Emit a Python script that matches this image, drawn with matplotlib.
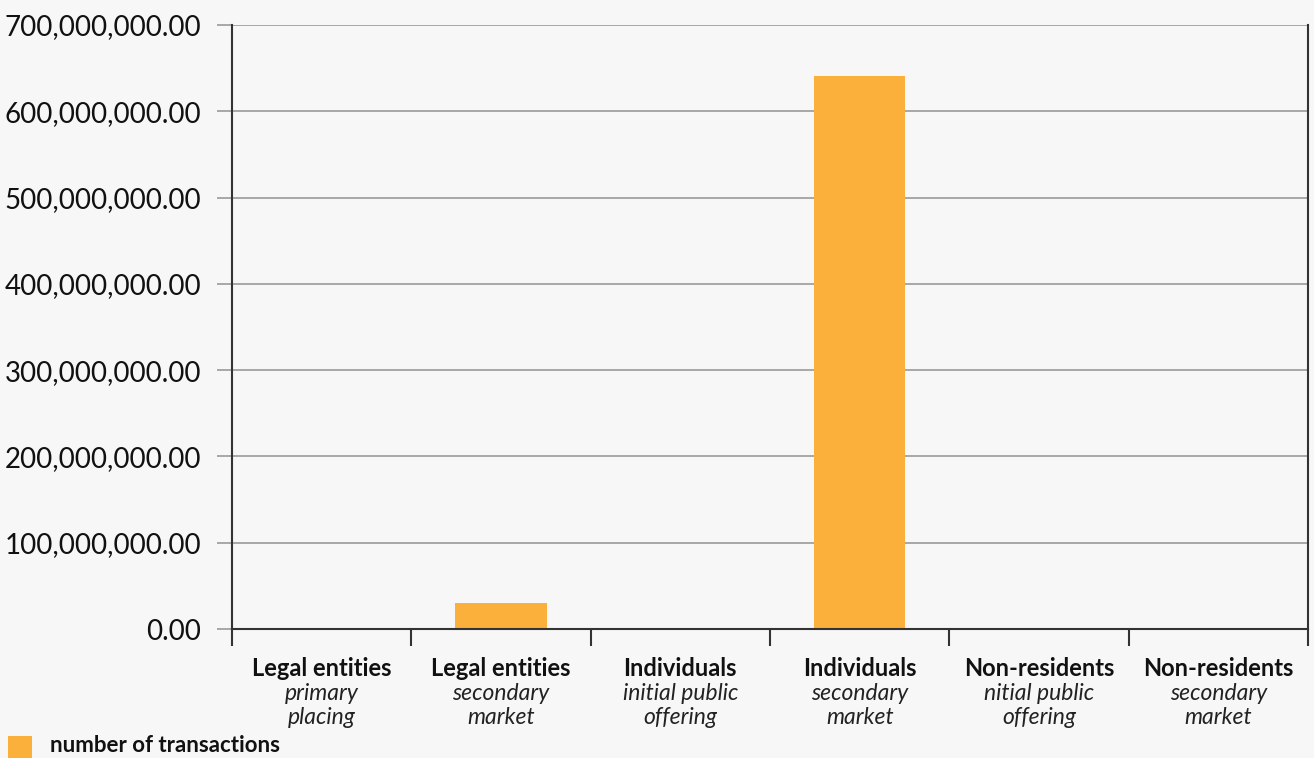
import numpy as np
import matplotlib.pyplot as plt
from matplotlib.ticker import FuncFormatter, FixedLocator
from matplotlib.patches import Rectangle

plt.rcParams['font.family'] = ['Lato', 'DejaVu Sans']

groups = ['Legal entities', 'Legal entities', 'Individuals', 'Individuals', 'Non-residents', 'Non-residents']
subtitles = [('primary', 'placing'), ('secondary', 'market'), ('initial public', 'offering'),
             ('secondary', 'market'), ('nitial public', 'offering'), ('secondary', 'market')]
values = [0, 30000000, 0, 641000000, 0, 0]
series_name = 'number of transactions'

bg = '#f7f7f7'
bar_color = '#fbb03b'
grid_color = '#9a9a9a'
dark = '#333333'

W, H = 1314, 758
fig = plt.figure(figsize=(W/100, H/100), dpi=100, facecolor=bg)
ax = fig.add_axes([232/W, 1-629/H, (1308-232)/W, (629-25)/H], facecolor=bg)

x = np.arange(len(values))
ax.bar(x, values, width=0.51, color=bar_color, zorder=3)

ax.set_xlim(-0.5, len(values) - 0.5)
ax.set_ylim(0, 700000000)
ax.set_yticks(np.arange(0, 700000001, 100000000))
ax.yaxis.set_major_formatter(FuncFormatter(lambda v, p: f'{v:,.2f}'))
ax.tick_params(axis='y', length=11, width=1.2, color=grid_color, pad=11, labelsize=20, labelcolor='#111111')
ax.yaxis.grid(True, color=grid_color, linewidth=1.2, zorder=0)
ax.yaxis.get_major_ticks()[0].tick1line.set_color(dark)

ax.xaxis.set_major_locator(FixedLocator(np.arange(-0.5, len(values), 1.0)))
ax.set_xticklabels([])
ax.tick_params(axis='x', length=12, width=1.5, color=dark, direction='out')

ax.spines['top'].set_visible(False)
for side in ['left', 'right', 'bottom']:
    ax.spines[side].set_color(dark)
    ax.spines[side].set_linewidth(1.5)
    ax.spines[side].set_zorder(4)

for i, (g, (s1, s2)) in enumerate(zip(groups, subtitles)):
    ax.annotate(g, xy=(i, 0), xytext=(0, -28.5), textcoords='offset points',
                ha='center', va='center', fontsize=17, fontweight='bold', color='#111111')
    ax.annotate(s1, xy=(i, 0), xytext=(0, -46.5), textcoords='offset points',
                ha='center', va='center', fontsize=16.5, fontstyle='italic', color='#222222')
    ax.annotate(s2, xy=(i, 0), xytext=(0, -64), textcoords='offset points',
                ha='center', va='center', fontsize=16.5, fontstyle='italic', color='#222222')

# legend
fig.patches.append(Rectangle((8/W, 0), 24/W, 22/H, transform=fig.transFigure,
                             facecolor=bar_color, edgecolor='none'))
fig.text(50/W, 1-745/H, series_name, ha='left', va='center', fontsize=16,
         fontweight='bold', color='#111111')

fig.savefig('out.png', dpi=100, facecolor=bg)
